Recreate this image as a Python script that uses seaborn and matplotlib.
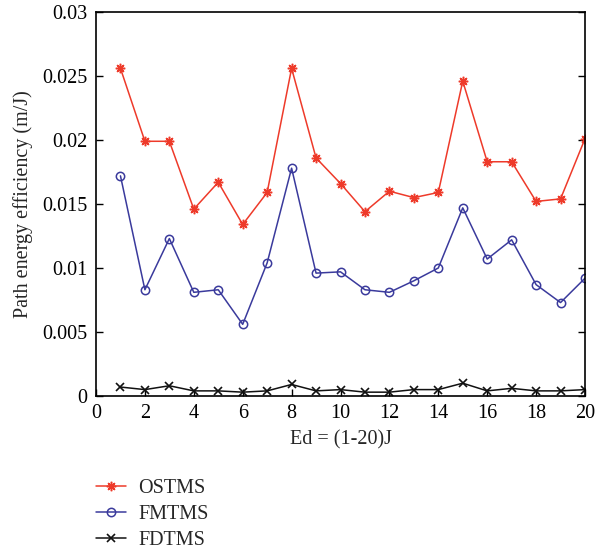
import matplotlib
matplotlib.use("Agg")
import matplotlib.pyplot as plt
import seaborn as sns
import pandas as pd

ed = list(range(1, 21))
ostms = [0.0256, 0.0199, 0.0199, 0.0146, 0.0167, 0.0134, 0.0159, 0.0256, 0.0186, 0.0166,
         0.0144, 0.0160, 0.0155, 0.0159, 0.0246, 0.0183, 0.0183, 0.0152, 0.0154, 0.0201]
fmtms = [0.0172, 0.0083, 0.0123, 0.0081, 0.0083, 0.0056, 0.0104, 0.0178, 0.0096, 0.0097,
         0.0083, 0.0081, 0.0090, 0.0100, 0.0147, 0.0107, 0.0122, 0.0087, 0.0073, 0.0092]
fdtms = [0.0007, 0.0005, 0.0008, 0.0004, 0.0004, 0.0003, 0.0004, 0.0009, 0.0004, 0.0005,
         0.0003, 0.0003, 0.0005, 0.0005, 0.0010, 0.0004, 0.0006, 0.0004, 0.0004, 0.0005]
series_names = ["OSTMS", "FMTMS", "FDTMS"]
x_ticks = list(range(0, 21, 2))
y_ticks = [0, 0.005, 0.01, 0.015, 0.02, 0.025, 0.03]
y_tick_labels = ["0", "0.005", "0.01", "0.015", "0.02", "0.025", "0.03"]

sns.set_theme(style="white")
plt.rcParams["font.family"] = ["Liberation Serif", "DejaVu Serif"]

df = pd.DataFrame({
    "Ed": ed * 3,
    "value": ostms + fmtms + fdtms,
    "series": [series_names[0]] * 20 + [series_names[1]] * 20 + [series_names[2]] * 20,
})

colors = {"OSTMS": "#ee3a2a", "FMTMS": "#3a3a9c", "FDTMS": "#111111"}
styles = {
    "OSTMS": dict(marker=(8, 2, 0), ms=8.5, mew=1.1),
    "FMTMS": dict(marker="o", ms=7.5, mew=1.1),
    "FDTMS": dict(marker="x", ms=6.5, mew=1.2),
}
FS = 14.5

fig = plt.figure(figsize=(6.04, 5.54), dpi=100)
ax = fig.add_axes([96 / 604, 1 - 396 / 554, 489 / 604, 384 / 554])

for name in series_names:
    sub = df[df["series"] == name]
    sns.lineplot(data=sub, x="Ed", y="value", ax=ax, color=colors[name], lw=1.1,
                 label=name, estimator=None, sort=False,
                 marker=styles[name]["marker"], markersize=styles[name]["ms"],
                 markerfacecolor="none", markeredgecolor=colors[name],
                 markeredgewidth=styles[name]["mew"])

ax.set_xlim(0, 20)
ax.set_ylim(0, 0.03)
ax.set_xticks(x_ticks)
ax.set_xticklabels([str(t) for t in x_ticks])
ax.set_yticks(y_ticks)
ax.set_yticklabels(y_tick_labels)
ax.tick_params(direction="in", length=5, width=1, colors="black", labelsize=FS,
               top=False, right=True, bottom=True, left=True, pad=6)
for sp in ax.spines.values():
    sp.set_color("black")
    sp.set_linewidth(1.2)
ax.set_xlabel("Ed = (1-20)J", fontsize=FS, labelpad=5)
ax.set_ylabel("Path energy efficiency (m/J)", fontsize=FS, labelpad=7)

handles, labels = ax.get_legend_handles_labels()
for h in handles:
    h.set_markersize(h.get_markersize() * 0.8)
ax.legend(handles, labels, loc="upper left", bbox_to_anchor=(-0.017, -0.195),
          frameon=False, fontsize=FS, handlelength=1.5, handletextpad=0.6,
          labelspacing=0.35, borderaxespad=0)

fig.savefig("out.png", dpi=100)
